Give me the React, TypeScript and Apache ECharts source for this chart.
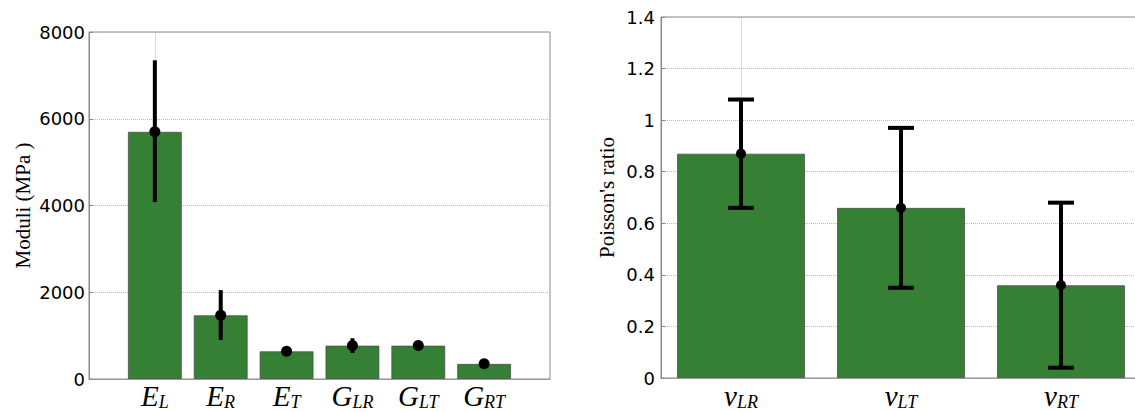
import React, { useEffect, useRef } from "react";
import * as echarts from "echarts";

// ---- data ----
const modSymbols = ["E", "E", "E", "G", "G", "G"];
const modSubs = ["L", "R", "T", "LR", "LT", "RT"];
const modMean = [5700, 1470, 640, 770, 770, 350];
const modLow = [4080, 900, 580, 600, 710, 300];
const modHigh = [7350, 2050, 700, 940, 830, 400];

const poiSymbols = ["ν", "ν", "ν"];
const poiSubs = ["LR", "LT", "RT"];
const poiMean = [0.87, 0.66, 0.36];
const poiLow = [0.66, 0.35, 0.04];
const poiHigh = [1.08, 0.97, 0.68];

const modTicks = [0, 2000, 4000, 6000, 8000];
const poiTicks = [0, 0.2, 0.4, 0.6, 0.8, 1, 1.2, 1.4];

const GREEN = "#368036";

function errRender(lineW: number, dotR: number, capW: number) {
  return (params: any, api: any) => {
    const x = api.value(0);
    const m = api.coord([x, api.value(1)]);
    const lo = api.coord([x, api.value(2)]);
    const hi = api.coord([x, api.value(3)]);
    const children: any[] = [
      {
        type: "line",
        shape: { x1: lo[0], y1: lo[1], x2: hi[0], y2: hi[1] },
        style: { stroke: "#000", lineWidth: lineW },
      },
      {
        type: "circle",
        shape: { cx: m[0], cy: m[1], r: dotR },
        style: { fill: "#000" },
      },
    ];
    if (capW > 0) {
      children.push(
        {
          type: "line",
          shape: { x1: lo[0] - capW / 2, y1: lo[1], x2: lo[0] + capW / 2, y2: lo[1] },
          style: { stroke: "#000", lineWidth: lineW },
        },
        {
          type: "line",
          shape: { x1: hi[0] - capW / 2, y1: hi[1], x2: hi[0] + capW / 2, y2: hi[1] },
          style: { stroke: "#000", lineWidth: lineW },
        }
      );
    }
    return { type: "group", children };
  };
}

const tickFont = { fontFamily: "DejaVu Sans", fontSize: 18, color: "#000" };
const nameFont = { fontFamily: "Liberation Serif", fontSize: 21, color: "#000" };

function richStyles(subLH: number) {
  return {
    m: { fontFamily: "Liberation Serif", fontStyle: "italic", fontSize: 29, lineHeight: 30, color: "#000", verticalAlign: "middle" },
    s: {
      fontFamily: "Liberation Serif",
      fontStyle: "italic",
      fontSize: 18,
      lineHeight: subLH,
      color: "#000",
      verticalAlign: "bottom",
    },
  };
}

export default function App() {
  const ref = useRef<HTMLDivElement>(null);
  useEffect(() => {
    document.body.style.margin = "0";
    const chart = echarts.init(ref.current!, null, { renderer: "svg" });
    const gridStyle = {
      show: true,
      borderColor: "#888",
      borderWidth: 1,
      backgroundColor: "transparent",
      containLabel: false,
      outerBoundsMode: "none",
    };
    const splitLine = { show: true, lineStyle: { color: "#b8b8b8", type: "dotted" as const, width: 1 } };
    chart.setOption({
      animation: false,
      backgroundColor: "#fff",
      grid: [
        { left: 89, top: 32, width: 461, height: 347, ...gridStyle },
        { left: 661, top: 17, width: 480, height: 361, ...gridStyle },
      ],
      xAxis: [
        {
          type: "value",
          gridIndex: 0,
          min: 0,
          max: 7,
          interval: 1,
          splitLine: { show: false },
          axisTick: { show: false },
          axisLine: { show: true, lineStyle: { color: "#999" } },
          axisLabel: {
            margin: 2,
            formatter: (v: number) => {
              const i = Math.round(v) - 1;
              if (i < 0 || i >= modSymbols.length || Math.abs(v - Math.round(v)) > 1e-6) return "";
              return `{m|${modSymbols[i]}}{s|${modSubs[i]}}`;
            },
            rich: richStyles(17),
          },
        },
        {
          type: "value",
          gridIndex: 1,
          min: 0.5,
          max: 3.5,
          interval: 0.5,
          splitLine: { show: false },
          axisTick: { show: false },
          axisLine: { show: true, lineStyle: { color: "#999" } },
          axisLabel: {
            margin: 3,
            formatter: (v: number) => {
              const i = Math.round(v) - 1;
              if (i < 0 || i >= poiSymbols.length || Math.abs(v - Math.round(v)) > 1e-6) return "";
              return `{m|${poiSymbols[i]}}{s|${poiSubs[i]}}`;
            },
            rich: richStyles(12),
          },
        },
      ],
      yAxis: [
        {
          type: "value",
          gridIndex: 0,
          min: modTicks[0],
          max: modTicks[modTicks.length - 1],
          interval: 2000,
          name: "Moduli (MPa )",
          nameLocation: "middle",
          nameGap: 56,
          nameTextStyle: nameFont,
          axisLine: { show: true, lineStyle: { color: "#888" } },
          axisTick: { show: true, inside: true, length: 4, lineStyle: { color: "#888" } },
          axisLabel: { ...tickFont, margin: 4, formatter: (v: number) => String(v) },
          splitLine,
        },
        {
          type: "value",
          gridIndex: 1,
          min: poiTicks[0],
          max: poiTicks[poiTicks.length - 1],
          interval: 0.2,
          name: "Poisson's ratio",
          nameLocation: "middle",
          nameGap: 44,
          nameTextStyle: nameFont,
          axisLine: { show: true, lineStyle: { color: "#888" } },
          axisTick: { show: true, inside: true, length: 4, lineStyle: { color: "#888" } },
          axisLabel: { ...tickFont, margin: 6, formatter: (v: number) => String(Math.round(v * 10) / 10) },
          splitLine,
        },
      ],
      series: [
        {
          type: "bar",
          xAxisIndex: 0,
          yAxisIndex: 0,
          barWidth: 54,
          data: modMean.map((v, i) => [i + 1, v]),
          itemStyle: { color: GREEN, borderColor: "rgba(70,70,70,0.7)", borderWidth: 1 },
          markLine: {
            silent: true,
            symbol: "none",
            label: { show: false },
            lineStyle: { color: "#b8b8b8", type: "dotted", width: 1 },
            data: [[{ coord: [1, modMean[0]] }, { coord: [1, modTicks[modTicks.length - 1]] }]],
          },
        },
        {
          type: "custom",
          xAxisIndex: 0,
          yAxisIndex: 0,
          z: 5,
          renderItem: errRender(4, 5.5, 0),
          data: modMean.map((v, i) => [i + 1, v, modLow[i], modHigh[i]]),
        },
        {
          type: "bar",
          xAxisIndex: 1,
          yAxisIndex: 1,
          barWidth: 128,
          data: poiMean.map((v, i) => [i + 1, v]),
          itemStyle: { color: GREEN, borderColor: "rgba(70,70,70,0.7)", borderWidth: 1 },
          markLine: {
            silent: true,
            symbol: "none",
            label: { show: false },
            lineStyle: { color: "#b8b8b8", type: "dotted", width: 1 },
            data: [[{ coord: [1, poiMean[0]] }, { coord: [1, poiTicks[poiTicks.length - 1]] }]],
          },
        },
        {
          type: "custom",
          xAxisIndex: 1,
          yAxisIndex: 1,
          z: 5,
          renderItem: errRender(4, 5, 26),
          data: poiMean.map((v, i) => [i + 1, v, poiLow[i], poiHigh[i]]),
        },
      ],
    });
    return () => chart.dispose();
  }, []);
  return (
    <div
      ref={ref}
      style={{ position: "absolute", left: 0, top: 0, width: 1135, height: 412 }}
    />
  );
}
